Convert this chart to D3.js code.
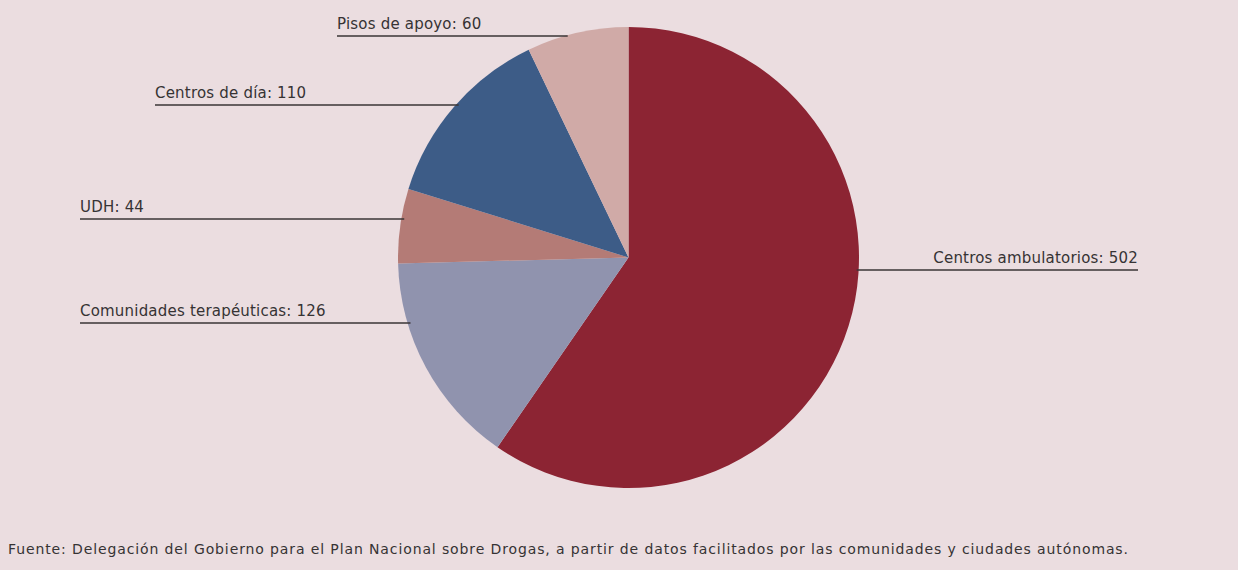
<!DOCTYPE html>
<html>
<head>
<meta charset="utf-8">
<script src="https://cdn.jsdelivr.net/npm/d3@7"></script>
<style>
  html, body { margin: 0; padding: 0; background: #ebdde0; }
  svg { display: block; }
</style>
</head>
<body>
<svg id="chart" width="1238" height="570"></svg>
<script>
const categories = ["Centros ambulatorios", "Comunidades terapéuticas", "UDH", "Centros de día", "Pisos de apoyo"];
const values = [502, 126, 44, 110, 60];
const colors = ["#8c2433", "#9093ae", "#b47b76", "#3d5c87", "#d0aaa7"];
const labelLineY = [270, 323, 219, 105, 36];
const labelAnchorX = [1138, 80, 80, 155, 337];
const labelSide = ["right", "left", "left", "left", "left"];
const source = "Fuente: Delegación del Gobierno para el Plan Nacional sobre Drogas, a partir de datos facilitados por las comunidades y ciudades autónomas.";

const svg = d3.select("#chart");
const W = 1238, H = 570;
svg.append("rect").attr("width", W).attr("height", H).attr("fill", "#ebdde0");

const cx = 628.5, cy = 257.5, R = 230.5;
const data = categories.map((c, i) => ({ name: c, value: values[i], color: colors[i], ly: labelLineY[i], lx: labelAnchorX[i], side: labelSide[i] }));

const pie = d3.pie().value(d => d.value).sort(null);
const arc = d3.arc().innerRadius(0).outerRadius(R);

const g = svg.append("g").attr("transform", `translate(${cx},${cy})`);
g.selectAll("path").data(pie(data)).join("path")
  .attr("d", arc)
  .attr("fill", d => d.data.color);

const font = "'DejaVu Sans', sans-serif";
data.forEach(d => {
  const dy = d.ly - cy;
  const dx = Math.sqrt(Math.max(0, R * R - dy * dy));
  const edgeX = d.side === "right" ? cx + dx - 2 : cx - dx + 3;
  const x1 = d.side === "right" ? edgeX : d.lx;
  const x2 = d.side === "right" ? d.lx : edgeX;
  svg.append("line")
    .attr("x1", x1).attr("x2", x2)
    .attr("y1", d.ly).attr("y2", d.ly)
    .attr("stroke", "#3a3436").attr("stroke-width", 1.5);
  svg.append("text")
    .attr("x", d.lx).attr("y", d.ly - 7)
    .attr("text-anchor", d.side === "right" ? "end" : "start")
    .attr("font-family", font).attr("font-size", 15)
    .attr("letter-spacing", 0.2)
    .attr("fill", "#363334")
    .text(`${d.name}: ${d.value}`);
});

svg.append("text")
  .attr("x", 8).attr("y", 554)
  .attr("font-family", font).attr("font-size", 14)
  .attr("textLength", 1120).attr("lengthAdjust", "spacing")
  .attr("fill", "#363334")
  .text(source);
</script>
</body>
</html>
